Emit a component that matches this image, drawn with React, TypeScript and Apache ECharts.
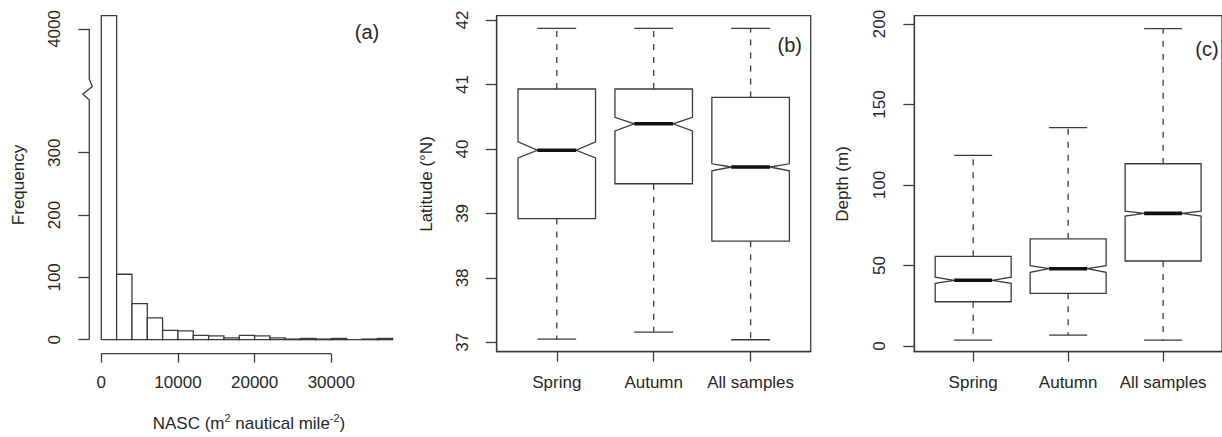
import React, { useEffect, useRef } from "react";
import * as echarts from "echarts";

// ---------- data ----------
const nascBinStart = [0, 2000, 4000, 6000, 8000, 10000, 12000, 14000, 16000, 18000, 20000, 22000, 24000, 26000, 28000, 30000, 32000, 34000, 36000];
const nascFrequency = [4045, 105, 58, 35, 15, 14, 7, 6, 3, 7, 6, 3, 1, 2, 1, 2, 0, 1, 2];
const nascBinWidth = 2000;
const nascTicks = [0, 10000, 20000, 30000];
const freqTicksLow = [0, 100, 200, 300];
const freqTicksHigh = [4000];

const groups = ["Spring", "Autumn", "All samples"];
const groupPos = [1, 2, 3];

const latMin = [37.05, 37.16, 37.04];
const latQ1 = [38.92, 39.46, 38.57];
const latNotchLow = [39.86, 40.28, 39.66];
const latMedian = [39.98, 40.39, 39.72];
const latNotchHigh = [40.11, 40.49, 39.77];
const latQ3 = [40.93, 40.93, 40.8];
const latMax = [41.87, 41.87, 41.87];
const latTicks = [37, 38, 39, 40, 41, 42];

const depthMin = [3.7, 6.8, 3.7];
const depthQ1 = [27.5, 32.7, 52.8];
const depthNotchLow = [38.9, 45.8, 80.7];
const depthMedian = [40.8, 48.0, 82.4];
const depthNotchHigh = [42.7, 49.9, 83.7];
const depthQ3 = [55.7, 66.6, 113.2];
const depthMax = [118.4, 135.6, 197.1];
const depthTicks = [0, 50, 100, 150, 200];

// ---------- styles ----------
const LINE = "#3a3a3a";
const TEXT = "#262626";
const FONT = "'Liberation Sans', Arial, Helvetica, sans-serif";
const FS = 17;
const LOW_MAX = 403.8;

const histData = nascBinStart.map((s, i) => [s, nascFrequency[i]]);
const boxData = (mn: number[], q1: number[], nl: number[], md: number[], nh: number[], q3: number[], mx: number[]) =>
  groupPos.map((p, i) => [p, mn[i], q1[i], nl[i], md[i], nh[i], q3[i], mx[i]]);

function histLower(params: any, api: any) {
  const x0 = api.value(0);
  const c = api.value(1);
  const cs = params.coordSys;
  const a = api.coord([x0, 0]);
  const b = api.coord([x0 + nascBinWidth, 0]);
  const t = api.coord([x0, c])[1];
  const style = { stroke: LINE, lineWidth: 1.3, fill: "none" };
  if (t < cs.y) {
    return {
      type: "polyline",
      shape: { points: [[a[0], cs.y], [a[0], a[1]], [b[0], b[1]], [b[0], cs.y]] },
      style,
    };
  }
  return {
    type: "polygon",
    shape: { points: [[a[0], a[1]], [a[0], t], [b[0], t], [b[0], a[1]]] },
    style: { ...style, fill: "#fff" },
  };
}

function histUpper(params: any, api: any) {
  const x0 = api.value(0);
  const c = api.value(1);
  const cs = params.coordSys;
  if (c <= LOW_MAX) return null;
  const a = api.coord([x0, c]);
  const b = api.coord([x0 + nascBinWidth, c]);
  const bottom = cs.y + cs.height;
  return {
    type: "polyline",
    shape: { points: [[a[0], bottom], [a[0], a[1]], [b[0], b[1]], [b[0], bottom]] },
    style: { stroke: LINE, lineWidth: 1.3, fill: "none" },
  };
}

function boxItem(params: any, api: any) {
  const cx = api.value(0);
  const v = [1, 2, 3, 4, 5, 6, 7].map((k) => api.value(k));
  const [mn, q1, nl, md, nh, q3, mx] = v;
  const P = (dx: number, y: number) => api.coord([cx + dx, y]);
  const W = 0.4, N = 0.2, C = 0.2;
  const ls = { stroke: LINE, lineWidth: 1.3 };
  const poly = [P(-W, q1), P(-W, nl), P(-N, md), P(-W, nh), P(-W, q3), P(W, q3), P(W, nh), P(N, md), P(W, nl), P(W, q1)];
  const c0 = P(0, q3), c1 = P(0, mx), c2 = P(0, q1), c3 = P(0, mn);
  const line = (p: number[], q: number[], style: any) => ({
    type: "line",
    shape: { x1: p[0], y1: p[1], x2: q[0], y2: q[1] },
    style,
  });
  return {
    type: "group",
    children: [
      line(c0, c1, { ...ls, lineDash: [6, 7] }),
      line(c2, c3, { ...ls, lineDash: [6, 7] }),
      line(P(-C, mx), P(C, mx), ls),
      line(P(-C, mn), P(C, mn), ls),
      { type: "polygon", shape: { points: poly }, style: { ...ls, fill: "#fff" } },
      line(P(-N, md), P(N, md), { stroke: "#111", lineWidth: 3.6 }),
    ],
  };
}

const tickStyle = { lineStyle: { color: LINE, width: 1.3 } };
const labelBase = { color: TEXT, fontSize: FS, fontFamily: FONT };
const plain = (v: number) => String(v);

function buildOption(): any {
  const catAxis = (gi: number) => ({
    type: "value",
    gridIndex: gi,
    min: 0.38,
    max: 3.62,
    axisLine: { show: true, onZero: false, lineStyle: { color: LINE, width: 1.3 } },
    splitLine: { show: false },
    axisTick: { show: true, customValues: groupPos, length: 10, ...tickStyle },
    axisLabel: {
      ...labelBase,
      customValues: groupPos,
      margin: 22,
      formatter: (val: number) => groups[Math.round(val) - 1] ?? "",
    },
  });
  const valY = (gi: number, min: number, max: number, ticks: number[], offset = 0, lineVisible = true) => ({
    type: "value",
    gridIndex: gi,
    min,
    max,
    offset,
    axisLine: { show: true, onZero: false, lineStyle: { color: LINE, width: 1.3, opacity: lineVisible ? 1 : 0 } },
    splitLine: { show: false },
    axisTick: { show: true, customValues: ticks, length: 11, ...tickStyle },
    axisLabel: { ...labelBase, customValues: ticks, rotate: 90, margin: 26, formatter: plain },
  });
  return {
    animation: false,
    backgroundColor: "#fff",
    grid: [
      { left: 101.3, width: 291.3, top: 88, height: 251.7 },
      { left: 101.3, width: 291.3, top: 0, height: 88 },
      { left: 496.7, width: 314, top: 15.7, height: 336, show: true, borderColor: LINE, borderWidth: 1.3, backgroundColor: "transparent" },
      { left: 914.3, width: 314, top: 15.7, height: 336, show: true, borderColor: LINE, borderWidth: 1.3, backgroundColor: "transparent" },
    ],
    xAxis: [
      {
        type: "value",
        gridIndex: 0,
        min: 0,
        max: 38000,
        offset: 14,
        axisLine: { show: true, onZero: false, lineStyle: { color: LINE, width: 1.3, opacity: 0 } },
        splitLine: { show: false },
        axisTick: { show: true, customValues: nascTicks, length: 9, ...tickStyle },
        axisLabel: { ...labelBase, customValues: nascTicks, margin: 20, formatter: plain },
      },
      { type: "value", gridIndex: 1, min: 0, max: 38000, show: false },
      catAxis(2),
      catAxis(3),
    ],
    yAxis: [
      valY(0, 0, LOW_MAX, freqTicksLow, 12, false),
      valY(1, 3800, 4098, freqTicksHigh, 12, false),
      valY(2, 36.855, 42.067, latTicks),
      valY(3, -3.54, 205.16, depthTicks),
    ],
    series: [
      { type: "custom", name: "NASC", xAxisIndex: 0, yAxisIndex: 0, data: histData, renderItem: histLower, encode: { x: 0, y: 1 } },
      { type: "custom", name: "NASC high", xAxisIndex: 1, yAxisIndex: 1, data: histData, renderItem: histUpper, encode: { x: 0, y: 1 } },
      {
        type: "custom",
        name: "Latitude",
        xAxisIndex: 2,
        yAxisIndex: 2,
        data: boxData(latMin, latQ1, latNotchLow, latMedian, latNotchHigh, latQ3, latMax),
        renderItem: boxItem,
        encode: { x: 0, y: [1, 2, 3, 4, 5, 6, 7] },
      },
      {
        type: "custom",
        name: "Depth",
        xAxisIndex: 3,
        yAxisIndex: 3,
        data: boxData(depthMin, depthQ1, depthNotchLow, depthMedian, depthNotchHigh, depthQ3, depthMax),
        renderItem: boxItem,
        encode: { x: 0, y: [1, 2, 3, 4, 5, 6, 7] },
      },
    ],
  };
}

const txt = (text: string, x: number, y: number, size: number, rot = 0) => ({
  type: "text",
  x,
  y,
  rotation: rot,
  style: { text, fill: TEXT, font: `${size}px ${FONT}`, align: "center", verticalAlign: "middle" },
});

export default function App() {
  const ref = useRef<HTMLDivElement>(null);
  useEffect(() => {
    const chart = echarts.init(ref.current!, null, { renderer: "svg" });
    chart.setOption(buildOption());

    const toX = (v: number) => chart.convertToPixel({ xAxisIndex: 0 }, v) as number;
    const toY0 = (v: number) => chart.convertToPixel({ yAxisIndex: 0 }, v) as number;
    const toY1 = (v: number) => chart.convertToPixel({ yAxisIndex: 1 }, v) as number;
    const ax = toX(0) - 12;
    const yBase = toY0(0);
    const yBreak = toY0(LOW_MAX);
    const yTop = toY1(freqTicksHigh[0]);
    const xAxisY = yBase + 14;

    chart.setOption({
      graphic: [
        {
          type: "polyline",
          shape: {
            points: [
              [ax, yTop],
              [ax, yBreak - 9],
              [ax + 3, yBreak - 1.5],
              [ax - 6.5, yBreak + 6],
              [ax, yBreak + 12],
              [ax, yBase],
            ],
          },
          style: { stroke: LINE, lineWidth: 1.3, fill: "none" },
        },
        {
          type: "line",
          shape: { x1: toX(nascTicks[0]), y1: xAxisY, x2: toX(nascTicks[nascTicks.length - 1]), y2: xAxisY },
          style: { stroke: LINE, lineWidth: 1.3 },
        },
        txt("Frequency", 18.3, 185, FS, Math.PI / 2),
        txt("Latitude (°N)", 426.7, 184, FS, Math.PI / 2),
        txt("Depth (m)", 842.5, 184, FS, Math.PI / 2),
        txt("(a)", 367, 32, 20),
        txt("(b)", 789.7, 45, 20),
        txt("(c)", 1207, 49, 20),
        {
          type: "text",
          x: 249,
          y: 423,
          style: {
            text: "{t|NASC (m}{s|2}{t| nautical mile}{s|-2}{t|)}",
            align: "center",
            verticalAlign: "middle",
            rich: {
              t: { fontSize: FS, fontFamily: FONT, fill: TEXT, lineHeight: 22 },
              s: { fontSize: 11, fontFamily: FONT, fill: TEXT, verticalAlign: "top", lineHeight: 14 },
            },
          },
        },
      ],
    });
    return () => chart.dispose();
  }, []);
  return (
    <div
      ref={ref}
      style={{ position: "absolute", left: 0, top: 0, width: 1222, height: 437, background: "#fff" }}
    />
  );
}
